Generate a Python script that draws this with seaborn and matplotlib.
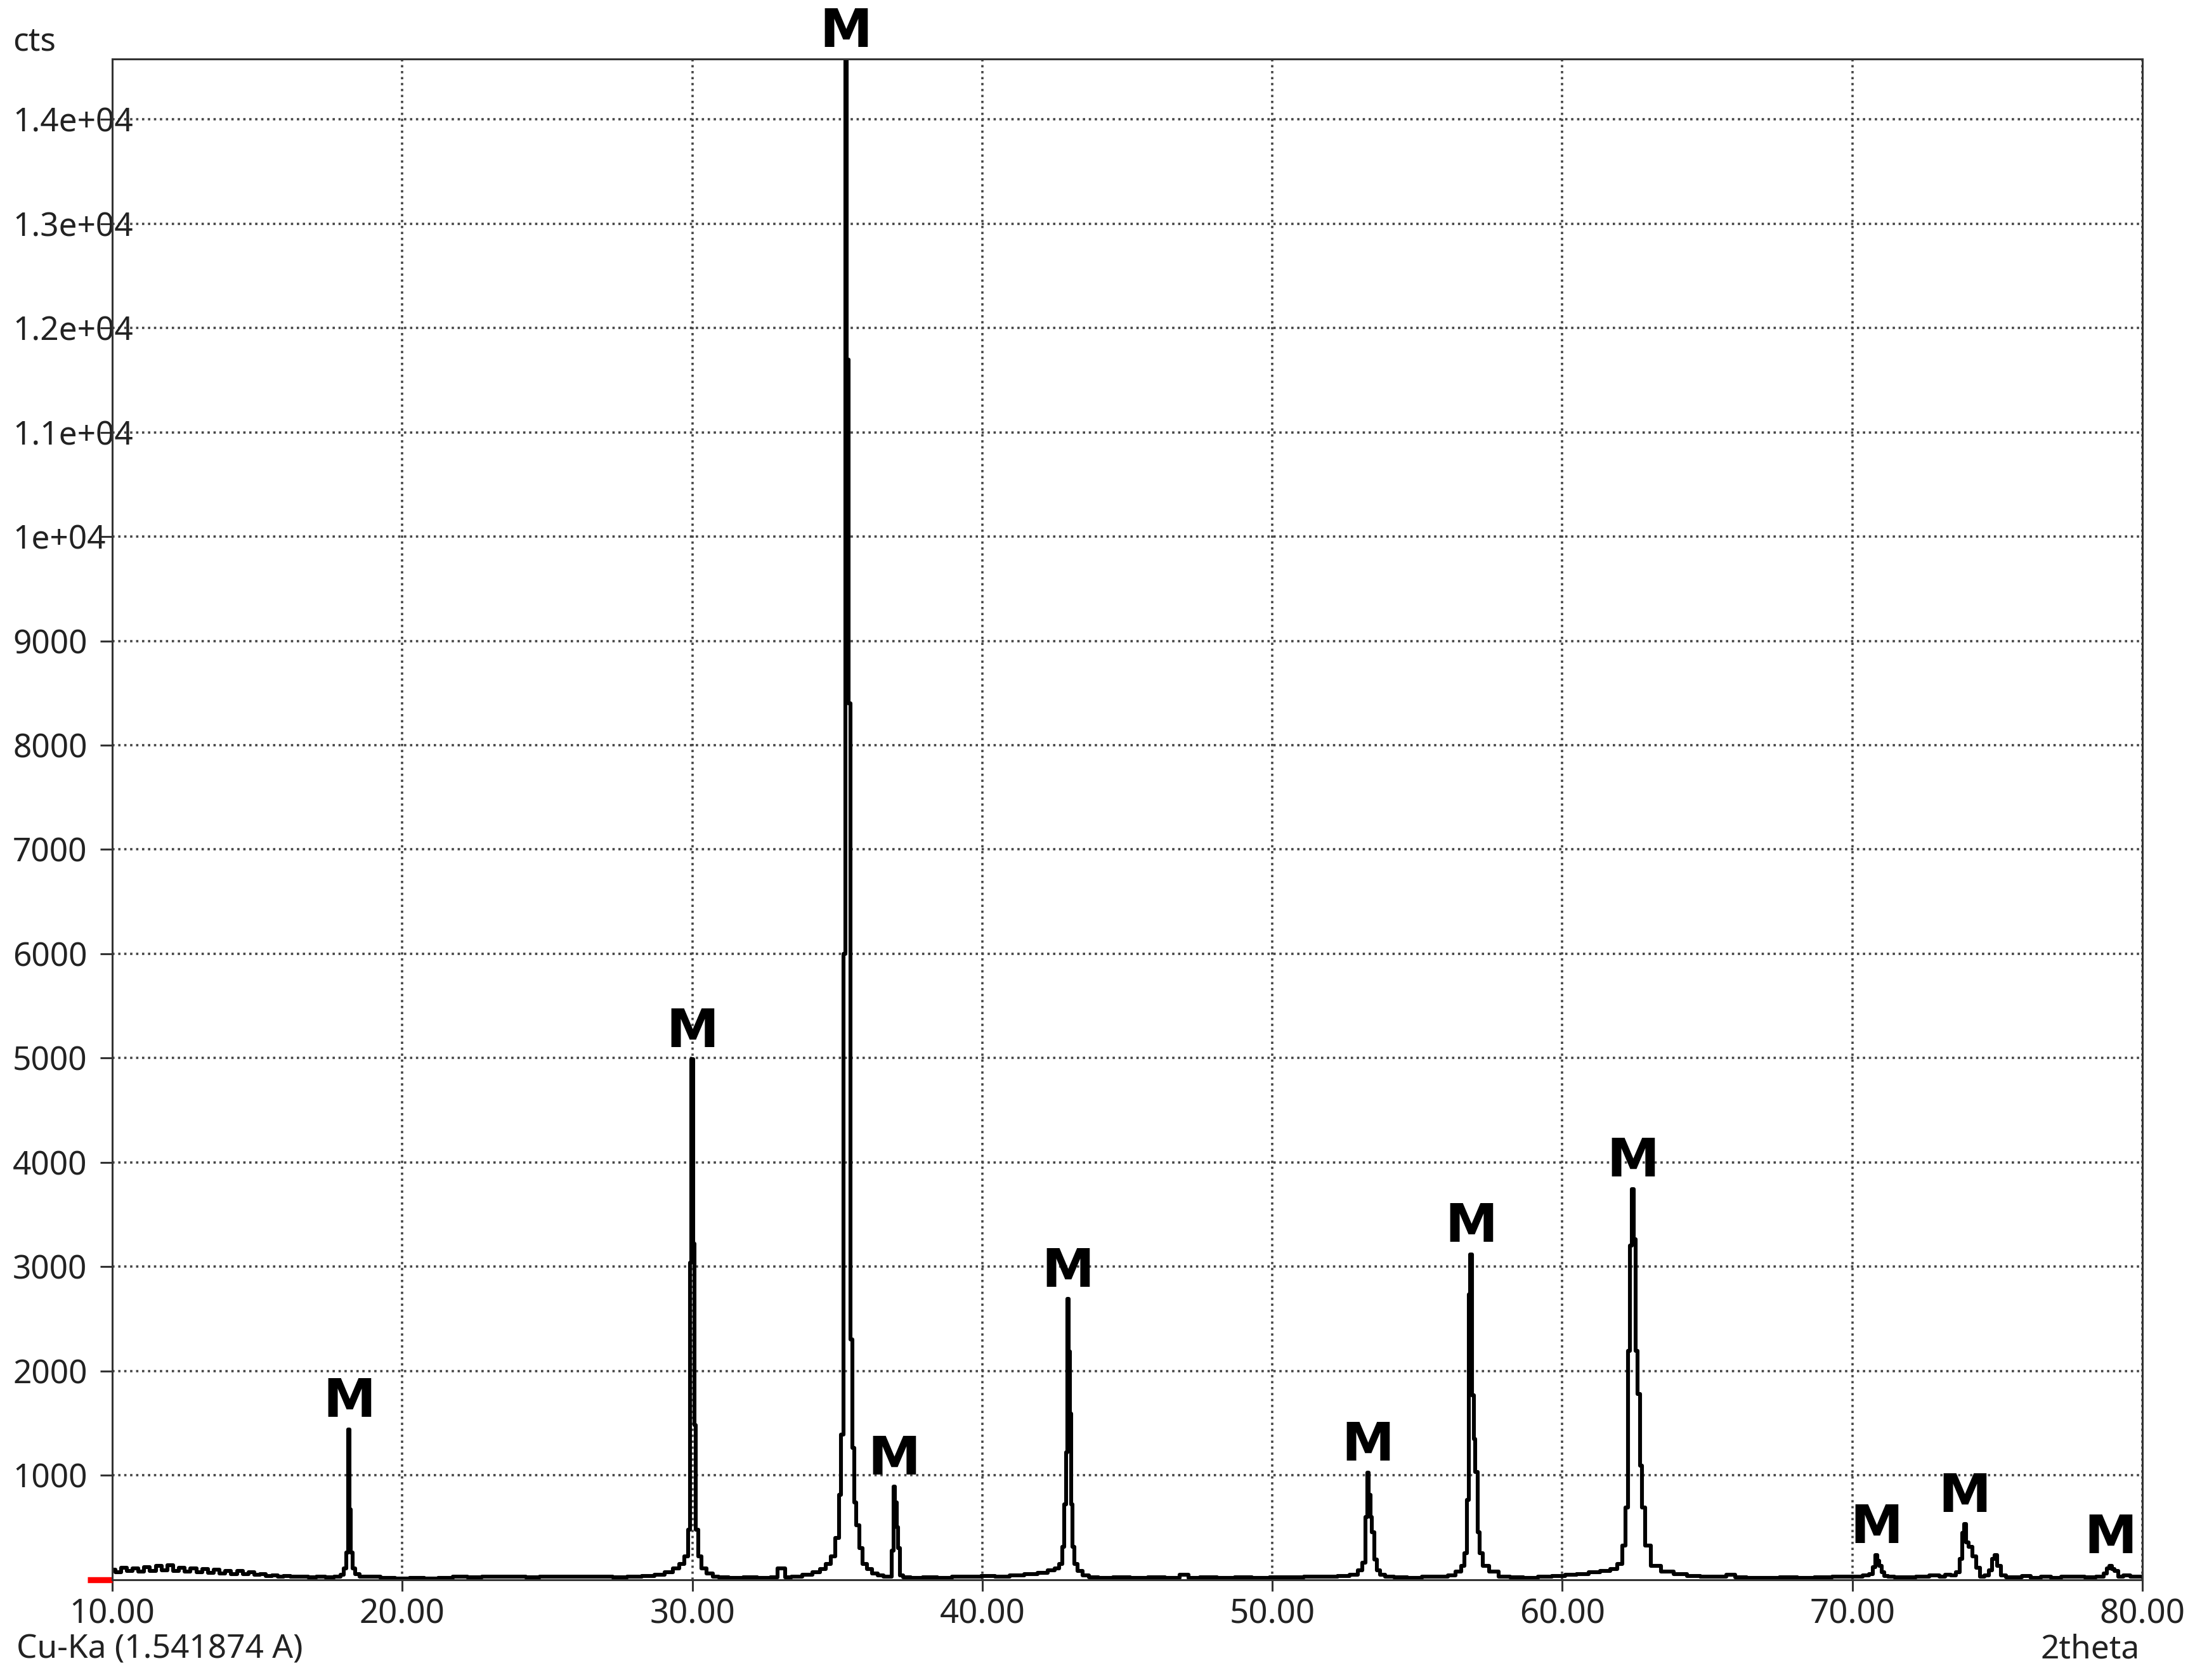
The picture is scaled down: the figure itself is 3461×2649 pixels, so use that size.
# XRD pattern, Cu-Ka, magnetite reflections marked "M"
import numpy as np
import pandas as pd
import matplotlib
matplotlib.use("Agg")
import matplotlib.pyplot as plt
import seaborn as sns

# --- profile (2theta, cts) ---
bg_10_18_x = [10.0, 10.2, 10.4, 10.6, 10.8, 11.0, 11.2, 11.4, 11.6, 11.8, 12.0, 12.2, 12.4,
              12.6, 12.8, 13.0, 13.2, 13.4, 13.6, 13.8, 14.0, 14.2, 14.4, 14.6, 14.8, 15.0,
              15.2, 15.4, 15.6, 15.8, 16.0, 16.3, 16.6, 16.9, 17.2, 17.5, 17.8]
bg_10_18_y = [95, 70, 115, 80, 110, 75, 120, 85, 130, 90, 135, 80, 115,
              75, 105, 70, 100, 65, 95, 60, 85, 55, 80, 50, 70, 45,
              55, 35, 40, 30, 35, 25, 30, 20, 25, 20, 30]

pk_18_x = [17.95, 18.03, 18.1, 18.15, 18.2, 18.25, 18.32, 18.45, 18.6]
pk_18_y = [45, 110, 260, 1440, 670, 260, 110, 50, 30]

bg_19_29_x = [19.0, 19.5, 20.0, 20.5, 21.0, 21.5, 22.0, 22.5, 23.0, 23.5, 24.0, 24.5, 25.0,
              25.5, 26.0, 26.5, 27.0, 27.5, 28.0, 28.5, 28.9, 29.2]
bg_19_29_y = [25, 15, 12, 15, 12, 15, 25, 20, 30, 25, 30, 20, 25,
              30, 25, 30, 25, 20, 30, 35, 45, 70]

pk_30_x = [29.45, 29.65, 29.8, 29.9, 29.95, 30.0, 30.05, 30.1, 30.15, 30.25, 30.4, 30.6, 30.8]
pk_30_y = [110, 150, 220, 480, 3040, 4990, 3220, 1480, 480, 220, 110, 60, 30]

bg_31_34_x = [31.0, 31.5, 32.0, 32.5, 32.9, 33.0, 33.15, 33.25, 33.6, 34.0]
bg_31_34_y = [20, 15, 20, 15, 20, 110, 110, 20, 25, 45]

pk_35_x = [34.3, 34.5, 34.7, 34.85, 35.0, 35.1, 35.17, 35.24, 35.3, 35.36, 35.42, 35.47,
           35.55, 35.62, 35.7, 35.8, 35.95, 36.1, 36.3, 36.5, 36.7]
pk_35_y = [70, 100, 150, 220, 400, 815, 1390, 6000, 14600, 11700, 8400, 2300,
           1260, 740, 520, 300, 150, 100, 60, 40, 25]

pk_37_x = [36.85, 36.91, 36.96, 37.02, 37.07, 37.12, 37.18, 37.35]
pk_37_y = [30, 280, 890, 740, 500, 300, 40, 20]

bg_38_42_x = [37.7, 38.2, 38.7, 39.2, 39.7, 40.2, 40.7, 41.2, 41.7, 42.1, 42.4, 42.6]
bg_38_42_y = [15, 20, 15, 25, 30, 35, 30, 40, 50, 65, 90, 110]

pk_43_x = [42.72, 42.8, 42.86, 42.91, 42.96, 43.01, 43.05, 43.09, 43.14, 43.22, 43.35, 43.55, 43.8]
pk_43_y = [150, 315, 720, 1220, 2690, 2185, 1590, 720, 315, 150, 80, 40, 20]

bg_44_52_x = [44.2, 44.8, 45.4, 46.0, 46.6, 47.0, 47.2, 47.8, 48.4, 49.0, 49.6, 50.2, 50.8,
              51.4, 52.0, 52.5, 52.85]
bg_44_52_y = [15, 20, 15, 20, 15, 45, 15, 20, 15, 20, 15, 20, 20,
              25, 25, 35, 45]

pk_53_x = [53.05, 53.17, 53.24, 53.3, 53.36, 53.41, 53.47, 53.55, 53.65, 53.8, 54.0]
pk_53_y = [90, 160, 600, 1025, 810, 600, 455, 190, 90, 45, 25]

bg_54_56_x = [54.4, 54.9, 55.4, 55.9, 56.2]
bg_54_56_y = [20, 15, 25, 25, 40]

pk_57_x = [56.45, 56.58, 56.68, 56.76, 56.8, 56.86, 56.92, 56.97, 57.04, 57.11, 57.19, 57.33, 57.6, 58.0]
pk_57_y = [75, 130, 250, 765, 2735, 3120, 1765, 1350, 1030, 455, 250, 130, 75, 30]

bg_58_61_x = [58.4, 58.9, 59.4, 59.9, 60.3, 60.7, 61.1, 61.5, 61.8]
bg_58_61_y = [20, 15, 25, 35, 45, 55, 70, 80, 100]

pk_62_x = [62.0, 62.12, 62.22, 62.3, 62.37, 62.43, 62.49, 62.55, 62.63, 62.71, 62.78, 62.92,
           63.2, 63.6, 64.1, 64.5]
pk_62_y = [150, 325, 690, 2190, 3200, 3745, 3265, 2190, 1780, 1090, 690, 325,
           130, 75, 55, 35]

bg_65_70_x = [65.0, 65.5, 65.8, 66.1, 66.6, 67.2, 67.8, 68.4, 69.0, 69.6, 70.2, 70.5]
bg_65_70_y = [30, 25, 45, 20, 15, 15, 20, 15, 20, 25, 30, 40]

pk_71_x = [70.65, 70.75, 70.83, 70.89, 70.96, 71.05, 71.15, 71.3]
pk_71_y = [55, 120, 235, 180, 130, 70, 35, 25]

bg_71_73_x = [71.6, 72.0, 72.4, 72.9, 73.1, 73.3, 73.5]
bg_71_73_y = [20, 20, 25, 40, 30, 45, 40]

pk_74_x = [73.65, 73.74, 73.82, 73.88, 73.96, 74.07, 74.19, 74.33, 74.47]
pk_74_y = [70, 200, 450, 530, 357, 316, 225, 112, 30]

pk_75_x = [74.65, 74.78, 74.87, 74.95, 75.05, 75.2, 75.4]
pk_75_y = [40, 90, 200, 235, 130, 40, 20]

bg_76_78_x = [75.7, 76.0, 76.3, 76.7, 77.0, 77.4, 77.8, 78.2, 78.6]
bg_76_78_y = [20, 35, 15, 30, 15, 30, 25, 20, 30]

pk_79_x = [78.74, 78.83, 78.9, 78.98, 79.08, 79.25, 79.45, 79.7, 80.0]
pk_79_y = [60, 110, 133, 100, 80, 30, 40, 30, 25]

# peaks that carry an "M" (magnetite) mark
m_peaks = [18.18, 30.0, 35.3, 36.96, 42.96, 53.3, 56.86, 62.43, 70.83, 73.88, 78.9]

x_ticks = [10, 20, 30, 40, 50, 60, 70, 80]
y_ticks = [1000, 2000, 3000, 4000, 5000, 6000, 7000, 8000, 9000,
           10000, 11000, 12000, 13000, 14000]
y_ticklabels = ['1000', '2000', '3000', '4000', '5000', '6000', '7000', '8000', '9000',
                '1e+04', '1.1e+04', '1.2e+04', '1.3e+04', '1.4e+04']

segments = [(bg_10_18_x, bg_10_18_y), (pk_18_x, pk_18_y), (bg_19_29_x, bg_19_29_y),
            (pk_30_x, pk_30_y), (bg_31_34_x, bg_31_34_y), (pk_35_x, pk_35_y),
            (pk_37_x, pk_37_y), (bg_38_42_x, bg_38_42_y), (pk_43_x, pk_43_y),
            (bg_44_52_x, bg_44_52_y), (pk_53_x, pk_53_y), (bg_54_56_x, bg_54_56_y),
            (pk_57_x, pk_57_y), (bg_58_61_x, bg_58_61_y), (pk_62_x, pk_62_y),
            (bg_65_70_x, bg_65_70_y), (pk_71_x, pk_71_y), (bg_71_73_x, bg_71_73_y),
            (pk_74_x, pk_74_y), (pk_75_x, pk_75_y), (bg_76_78_x, bg_76_78_y),
            (pk_79_x, pk_79_y)]
df = pd.DataFrame({'2theta': np.concatenate([s[0] for s in segments]),
                   'cts': np.concatenate([s[1] for s in segments])})

sns.set_style('white')
plt.rcParams['font.family'] = ['Noto Sans', 'DejaVu Sans']
txt_col = '#222222'

fig = plt.figure(figsize=(17.31, 13.245), dpi=200)
W, H = 3462, 2649
ax = fig.add_axes([177 / W, 1 - 2490.6 / H, (3378 - 177) / W, (2490.6 - 93) / H])

sns.lineplot(data=df, x='2theta', y='cts', color='black', linewidth=2.2,
             drawstyle='steps-mid', estimator=None, ax=ax)

ax.set_xlim(10, 80)
ax.set_ylim(0, 14580)
ax.set_xlabel('')
ax.set_ylabel('')

ax.set_xticks(x_ticks)
ax.set_xticklabels(['%.2f' % v for v in x_ticks])
ax.set_yticks(y_ticks)
ax.set_yticklabels(y_ticklabels)
# zero line gets a red marker instead of a label
ax.set_yticks([0], minor=True)

ax.grid(True, which='major', color='#444444', linestyle=(0, (1, 1.6)), linewidth=1.3)
ax.set_axisbelow(True)
for sp in ax.spines.values():
    sp.set_color('#333333')
    sp.set_linewidth(1.1)

ax.tick_params(axis='x', direction='out', length=6.5, width=1.1, color='#333333',
               labelsize=19, labelcolor=txt_col, pad=4, bottom=True)
ax.tick_params(axis='y', which='major', direction='out', length=6.8, width=1.1,
               color='#333333', labelsize=18.5, labelcolor=txt_col, pad=49.7, left=True)
ax.tick_params(axis='y', which='minor', direction='out', length=14, width=3.4,
               color='red', left=True, labelleft=False)
for lab in ax.get_yticklabels():
    lab.set_horizontalalignment('left')

# "M" labels above the peaks
xs = df['2theta'].values
ys = df['cts'].values
for p in m_peaks:
    near = np.abs(xs - p) < 0.3
    top = min(ys[near].max(), 14580)
    ax.annotate('M', xy=(p, top), xytext=(0, 7), textcoords='offset points',
                ha='center', va='baseline', fontsize=30, fontweight='bold',
                family='DejaVu Sans', color='black', annotation_clip=False)

fig.text(20 / W, 1 - 66 / H, 'cts', ha='left', va='center', fontsize=18.5, color=txt_col)
fig.text(26 / W, 1 - 2601 / H, 'Cu-Ka (1.541874 A)', ha='left', va='center',
         fontsize=18.5, color=txt_col)
fig.text(3374 / W, 1 - 2601 / H, '2theta', ha='right', va='center',
         fontsize=18.5, color=txt_col)

fig.savefig('out.png', dpi=200)
